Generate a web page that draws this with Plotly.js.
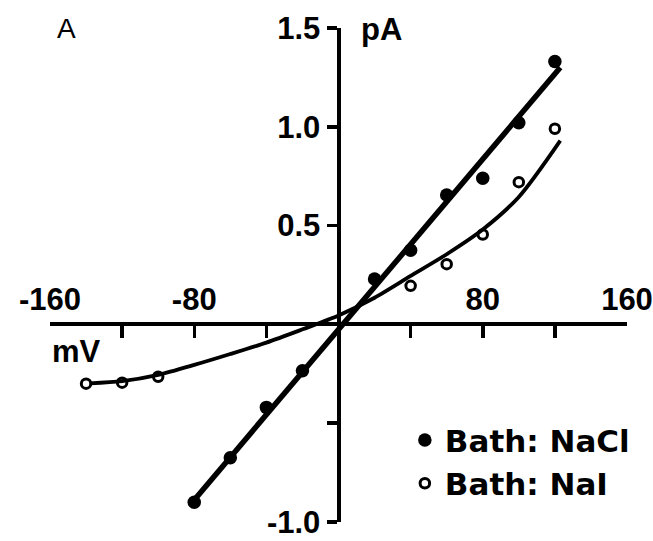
<!DOCTYPE html>
<html>
<head>
<meta charset="utf-8">
<script src="https://cdn.plot.ly/plotly-3.0.1.min.js"></script>
<style>html,body{margin:0;padding:0;background:#fff;}#chart{width:653px;height:541px;}</style>
</head>
<body>
<div id="chart"></div>
<script>
// Measured points (mV, pA)
const naclVoltage = [-80, -60, -40, -20, 20, 40, 60, 80, 100, 120];
const naclCurrent = [-0.90, -0.675, -0.42, -0.235, 0.23, 0.375, 0.655, 0.74, 1.02, 1.33];
const naiVoltage = [-140, -120, -100, 40, 60, 80, 100, 120];
const naiCurrent = [-0.30, -0.295, -0.265, 0.195, 0.305, 0.455, 0.72, 0.99];

// Fitted curves
const naclFitVoltage = [-82, 123];
const naclFitCurrent = [-0.91, 1.30];
const naiFitVoltage = [-138, -120, -100, -80, -60, -40, -20, 0, 20, 40, 60, 80, 100, 123];
const naiFitCurrent = [-0.298, -0.287, -0.255, -0.205, -0.150, -0.092, -0.025, 0.045, 0.135, 0.245, 0.355, 0.48, 0.645, 0.93];

// Axis ticks
const xTickVals = [-160, -120, -80, -40, 0, 40, 80, 120, 160];
const xTickText = ['-160', '', '-80', '', '', '', '80', '', '160'];
const yTickVals = [-1.0, -0.5, 0, 0.5, 1.0, 1.5];
const yTickText = ['-1.0', '', '', '0.5', '1.0', '1.5'];

const seriesNames = ['Bath: NaCl', 'Bath: NaI'];

const boldFont = {family: 'Liberation Sans, Arial, sans-serif', size: 31, color: '#000', weight: 'bold'};

const traces = [
  {x: naclFitVoltage, y: naclFitCurrent, mode: 'lines', line: {color: '#000', width: 5.5}, showlegend: false, hoverinfo: 'skip'},
  {x: naiFitVoltage, y: naiFitCurrent, mode: 'lines', line: {color: '#000', width: 3.8, shape: 'spline', smoothing: 0.8}, showlegend: false, hoverinfo: 'skip'},
  {x: naclVoltage, y: naclCurrent, mode: 'markers', name: seriesNames[0],
   marker: {symbol: 'circle', size: 13.5, color: '#000'}},
  {x: naiVoltage, y: naiCurrent, mode: 'markers', name: seriesNames[1],
   marker: {symbol: 'circle-open', size: 9.5, color: '#000', line: {width: 3, color: '#000'}}}
];

const layout = {
  width: 653, height: 541,
  margin: {l: 50, r: 26, t: 28, b: 19, pad: 0},
  paper_bgcolor: '#fff', plot_bgcolor: '#fff',
  showlegend: true,
  xaxis: {
    range: [-160, 160], anchor: 'free', position: 0.4, side: 'top',
    showgrid: false, zeroline: false,
    showline: true, linecolor: '#000', linewidth: 4,
    ticks: 'inside', ticklen: 12, tickwidth: 3.5, tickcolor: '#000',
    tickmode: 'array', tickvals: xTickVals, ticktext: xTickText,
    tickfont: boldFont, automargin: false
  },
  yaxis: {
    range: [-1.0, 1.5], anchor: 'free', position: 0.5, side: 'left',
    showgrid: false, zeroline: false,
    showline: true, linecolor: '#000', linewidth: 4,
    ticks: 'outside', ticklen: 10, tickwidth: 3.5, tickcolor: '#000',
    tickmode: 'array', tickvals: yTickVals, ticktext: yTickText,
    tickfont: boldFont, automargin: false
  },
  legend: {
    x: 0.615, y: 0.22, xanchor: 'left', yanchor: 'top',
    bgcolor: 'rgba(0,0,0,0)', borderwidth: 0,
    font: {family: 'DejaVu Sans, sans-serif', size: 31, color: '#000', weight: 'bold'}
  },
  annotations: [
    {text: 'A', xref: 'paper', yref: 'paper', x: 0.0286, y: 0.998, xanchor: 'center', yanchor: 'middle', showarrow: false,
     font: {family: 'Liberation Sans, Arial, sans-serif', size: 28, color: '#000'}},
    {text: 'pA', xref: 'paper', yref: 'paper', x: 0.5745, y: 0.997, xanchor: 'center', yanchor: 'middle', showarrow: false,
     font: {family: 'Liberation Sans, Arial, sans-serif', size: 31, color: '#000', weight: 'bold'}},
    {text: 'mV', xref: 'paper', yref: 'paper', x: 0.046, y: 0.346, xanchor: 'center', yanchor: 'middle', showarrow: false,
     font: {family: 'Liberation Sans, Arial, sans-serif', size: 31, color: '#000', weight: 'bold'}}
  ]
};

Plotly.newPlot('chart', traces, layout, {displayModeBar: false, staticPlot: true});
</script>
</body>
</html>
